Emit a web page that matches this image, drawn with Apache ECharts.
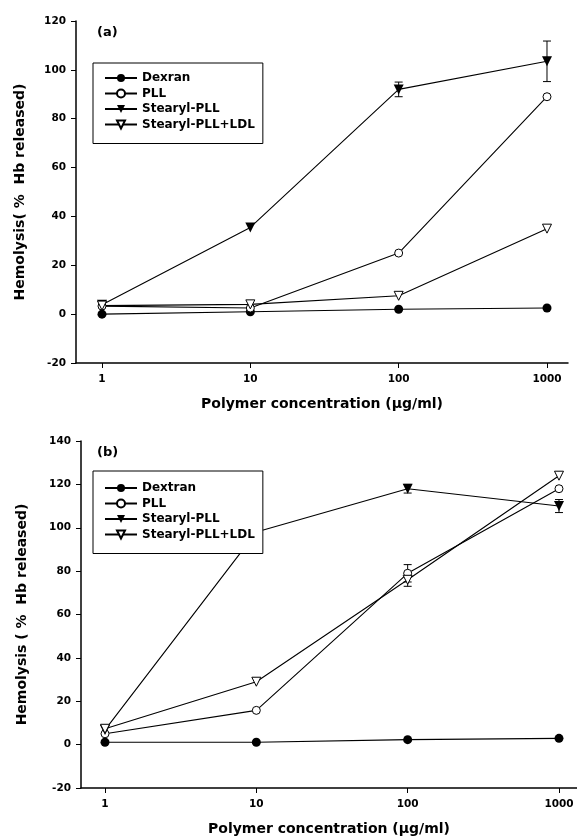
<!DOCTYPE html>
<html><head><meta charset="utf-8">
<script src="https://cdn.jsdelivr.net/npm/echarts@6/dist/echarts.min.js"></script>
<style>html,body{margin:0;padding:0;background:#fff}#c{width:577px;height:839px}</style>
</head><body><div id="c"></div>
<script>
// ---- data ----
const concentrations = [1, 10, 100, 1000];
const xTickLabels = ['1', '10', '100', '1000'];
const namesA = ['Dexran', 'PLL', 'Stearyl-PLL', 'Stearyl-PLL+LDL'];
const namesB = ['Dextran', 'PLL', 'Stearyl-PLL', 'Stearyl-PLL+LDL'];
const a_dextran = [0, 1, 2, 2.5];
const a_pll = [3.3, 2.5, 25, 89];
const a_stearyl = [3.8, 35.5, 92, 103.5];
const a_stearylErr = [0, 0, 3, 8.3];
const a_stearylLdl = [3.5, 4, 7.5, 35];
const b_dextran = [1.1, 1.1, 2.3, 2.9];
const b_pll = [5, 15.8, 79, 118];
const b_pllErr = [0, 0, 4, 0];
const b_stearyl = [6.8, 98, 118, 110];
const b_stearylErr = [0, 0, 2, 3];
const b_stearylLdl = [7.3, 29, 76, 124];
const b_stearylLdlErr = [0, 0, 3, 0];
const yRangeA = [-20, 120];
const yRangeB = [-20, 140];

// ---- chart ----
const FONT = '"DejaVu Sans", "Liberation Sans", Arial, sans-serif';
const chart = echarts.init(document.getElementById('c'), null, {renderer: 'canvas'});
const logTicks = concentrations.map(c => Math.log10(c));

function xAxis(gi, min, max, gap) {
  return {
    type: 'value', gridIndex: gi, min: min, max: max,
    name: 'Polymer concentration (\u00b5g/ml)', nameLocation: 'middle', nameGap: gap,
    nameTextStyle: {fontFamily: FONT, fontWeight: 'bold', fontSize: 14, color: '#000'},
    axisLine: {onZero: false, lineStyle: {color: '#000', width: 1.5}},
    axisTick: {customValues: logTicks, length: 5, lineStyle: {color: '#000', width: 1}},
    axisLabel: {customValues: logTicks, margin: 11, fontFamily: FONT, fontWeight: 'bold', fontSize: 10.5, color: '#000',
      formatter: v => xTickLabels[logTicks.findIndex(t => Math.abs(t - v) < 1e-6)] || ''},
    splitLine: {show: false}
  };
}
function yAxis(gi, range, name, gap) {
  return {
    type: 'value', gridIndex: gi, min: range[0], max: range[1], interval: 20,
    name: name, nameLocation: 'middle', nameGap: gap,
    nameTextStyle: {fontFamily: FONT, fontWeight: 'bold', fontSize: 14, color: '#000'},
    axisLine: {show: true, onZero: false, lineStyle: {color: '#000', width: 1.5}},
    axisTick: {show: true, length: 5, lineStyle: {color: '#000', width: 1}},
    axisLabel: {margin: 10, fontFamily: FONT, fontWeight: 'bold', fontSize: 10.5, color: '#000'},
    splitLine: {show: false}
  };
}
const styles = [
  {symbol: 'circle', symbolSize: 9, symbolRotate: 0, itemStyle: {color: '#000'}},
  {symbol: 'circle', symbolSize: 8, symbolRotate: 0, itemStyle: {color: '#fff', borderColor: '#000', borderWidth: 1}},
  {symbol: 'triangle', symbolSize: 10, symbolRotate: 180, itemStyle: {color: '#000'}},
  {symbol: 'triangle', symbolSize: 9, symbolRotate: 180, itemStyle: {color: '#fff', borderColor: '#000', borderWidth: 1}}
];
function lineSeries(gi, name, vals, si) {
  const s = styles[si];
  return {
    type: 'line', name: name, xAxisIndex: gi, yAxisIndex: gi,
    data: concentrations.map((c, i) => [Math.log10(c), vals[i]]),
    symbol: s.symbol, symbolSize: s.symbolSize, symbolRotate: s.symbolRotate,
    showAllSymbol: true, itemStyle: s.itemStyle,
    lineStyle: {color: '#000', width: 1.1}, z: 3
  };
}
function errSeries(gi, vals, errs) {
  const data = concentrations.map((c, i) => [Math.log10(c), vals[i], errs[i]]).filter(d => d[2] > 0);
  return {
    type: 'custom', xAxisIndex: gi, yAxisIndex: gi, data: data, z: 2, silent: true,
    encode: {x: 0, y: 1},
    renderItem: function (params, api) {
      const x = api.value(0), y = api.value(1), e = api.value(2);
      const top = api.coord([x, y + e]), bot = api.coord([x, y - e]);
      const w = 4, st = {stroke: '#000', lineWidth: 1};
      return {type: 'group', children: [
        {type: 'line', shape: {x1: top[0], y1: top[1], x2: bot[0], y2: bot[1]}, style: st},
        {type: 'line', shape: {x1: top[0] - w, y1: top[1], x2: top[0] + w, y2: top[1]}, style: st},
        {type: 'line', shape: {x1: bot[0] - w, y1: bot[1], x2: bot[0] + w, y2: bot[1]}, style: st}
      ]};
    }
  };
}
function legend(names, top, padTop) {
  return {
    data: names, orient: 'vertical', left: 93, top: top, z: 20,
    itemWidth: 32, itemHeight: 10, itemGap: 3.5, padding: [padTop, 8, 13, 11],
    borderColor: '#000', borderWidth: 1, backgroundColor: '#fff', selectedMode: false,
    textStyle: {fontFamily: FONT, fontWeight: 'bold', fontSize: 12, color: '#000'}
  };
}
const option = {
  animation: false,
  backgroundColor: '#fff',
  title: [
    {text: '(a)', left: 97, top: 26, padding: 0, textStyle: {fontFamily: FONT, fontWeight: 'bold', fontSize: 13, color: '#000'}},
    {text: '(b)', left: 97, top: 446, padding: 0, textStyle: {fontFamily: FONT, fontWeight: 'bold', fontSize: 13, color: '#000'}}
  ],
  grid: [
    {left: 76, top: 21, width: 492, height: 342, containLabel: false, outerBoundsMode: 'none'},
    {left: 81, top: 441, width: 496, height: 347, containLabel: false, outerBoundsMode: 'none'}
  ],
  xAxis: [xAxis(0, -0.1753, 3.1416, 34), xAxis(1, -0.1586, 3.119, 34)],
  yAxis: [yAxis(0, yRangeA, 'Hemolysis( %  Hb released)', 49), yAxis(1, yRangeB, 'Hemolysis ( %  Hb released)', 52)],
  legend: [legend(namesA, 63, 9), legend(namesB, 471, 11)],
  series: [
    errSeries(0, a_stearyl, a_stearylErr),
    lineSeries(0, namesA[0], a_dextran, 0),
    lineSeries(0, namesA[1], a_pll, 1),
    lineSeries(0, namesA[2], a_stearyl, 2),
    lineSeries(0, namesA[3], a_stearylLdl, 3),
    errSeries(1, b_pll, b_pllErr),
    errSeries(1, b_stearyl, b_stearylErr),
    errSeries(1, b_stearylLdl, b_stearylLdlErr),
    lineSeries(1, namesB[0], b_dextran, 0),
    lineSeries(1, namesB[1], b_pll, 1),
    lineSeries(1, namesB[2], b_stearyl, 2),
    lineSeries(1, namesB[3], b_stearylLdl, 3)
  ]
};
chart.setOption(option);
</script>
</body></html>
